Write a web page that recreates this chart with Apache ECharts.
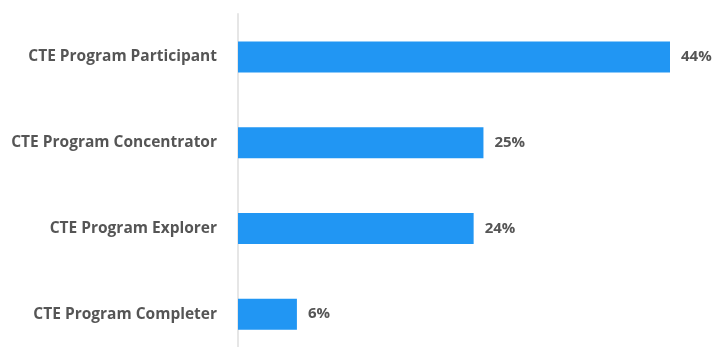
<!DOCTYPE html>
<html>
<head>
<meta charset="utf-8">
<script src="https://cdn.jsdelivr.net/npm/echarts@6/dist/echarts.min.js"></script>
<style>
  html, body { margin: 0; padding: 0; background: #fff; }
  #chart { width: 715px; height: 347px; }
</style>
</head>
<body>
<div id="chart"></div>
<script>
// Share of students by CTE program status
var categories = [
  'CTE Program Participant',
  'CTE Program Concentrator',
  'CTE Program Explorer',
  'CTE Program Completer'
];
var shares = [44, 25, 24, 6];

var chart = echarts.init(document.getElementById('chart'), null, { renderer: 'canvas' });

chart.setOption({
  animation: false,
  grid: { left: 238, top: 14, width: 432, height: 343, outerBoundsMode: 'none', containLabel: false },
  xAxis: {
    type: 'value',
    min: 0,
    max: 44,
    show: false
  },
  yAxis: {
    type: 'category',
    inverse: true,
    data: categories,
    axisLine: { show: true, lineStyle: { color: '#e6e6e6', width: 2 } },
    axisTick: { show: false },
    axisLabel: {
      margin: 21,
      color: '#555',
      fontFamily: 'Open Sans',
      fontWeight: 'bold',
      fontSize: 15.5
    }
  },
  series: [{
    type: 'bar',
    data: shares,
    barWidth: 31,
    itemStyle: { color: '#2196F3' },
    label: {
      show: true,
      position: 'right',
      distance: 11,
      formatter: '{c}%',
      color: '#555',
      fontFamily: 'Open Sans',
      fontWeight: 'bold',
      fontSize: 15
    }
  }]
});
</script>
</body>
</html>
